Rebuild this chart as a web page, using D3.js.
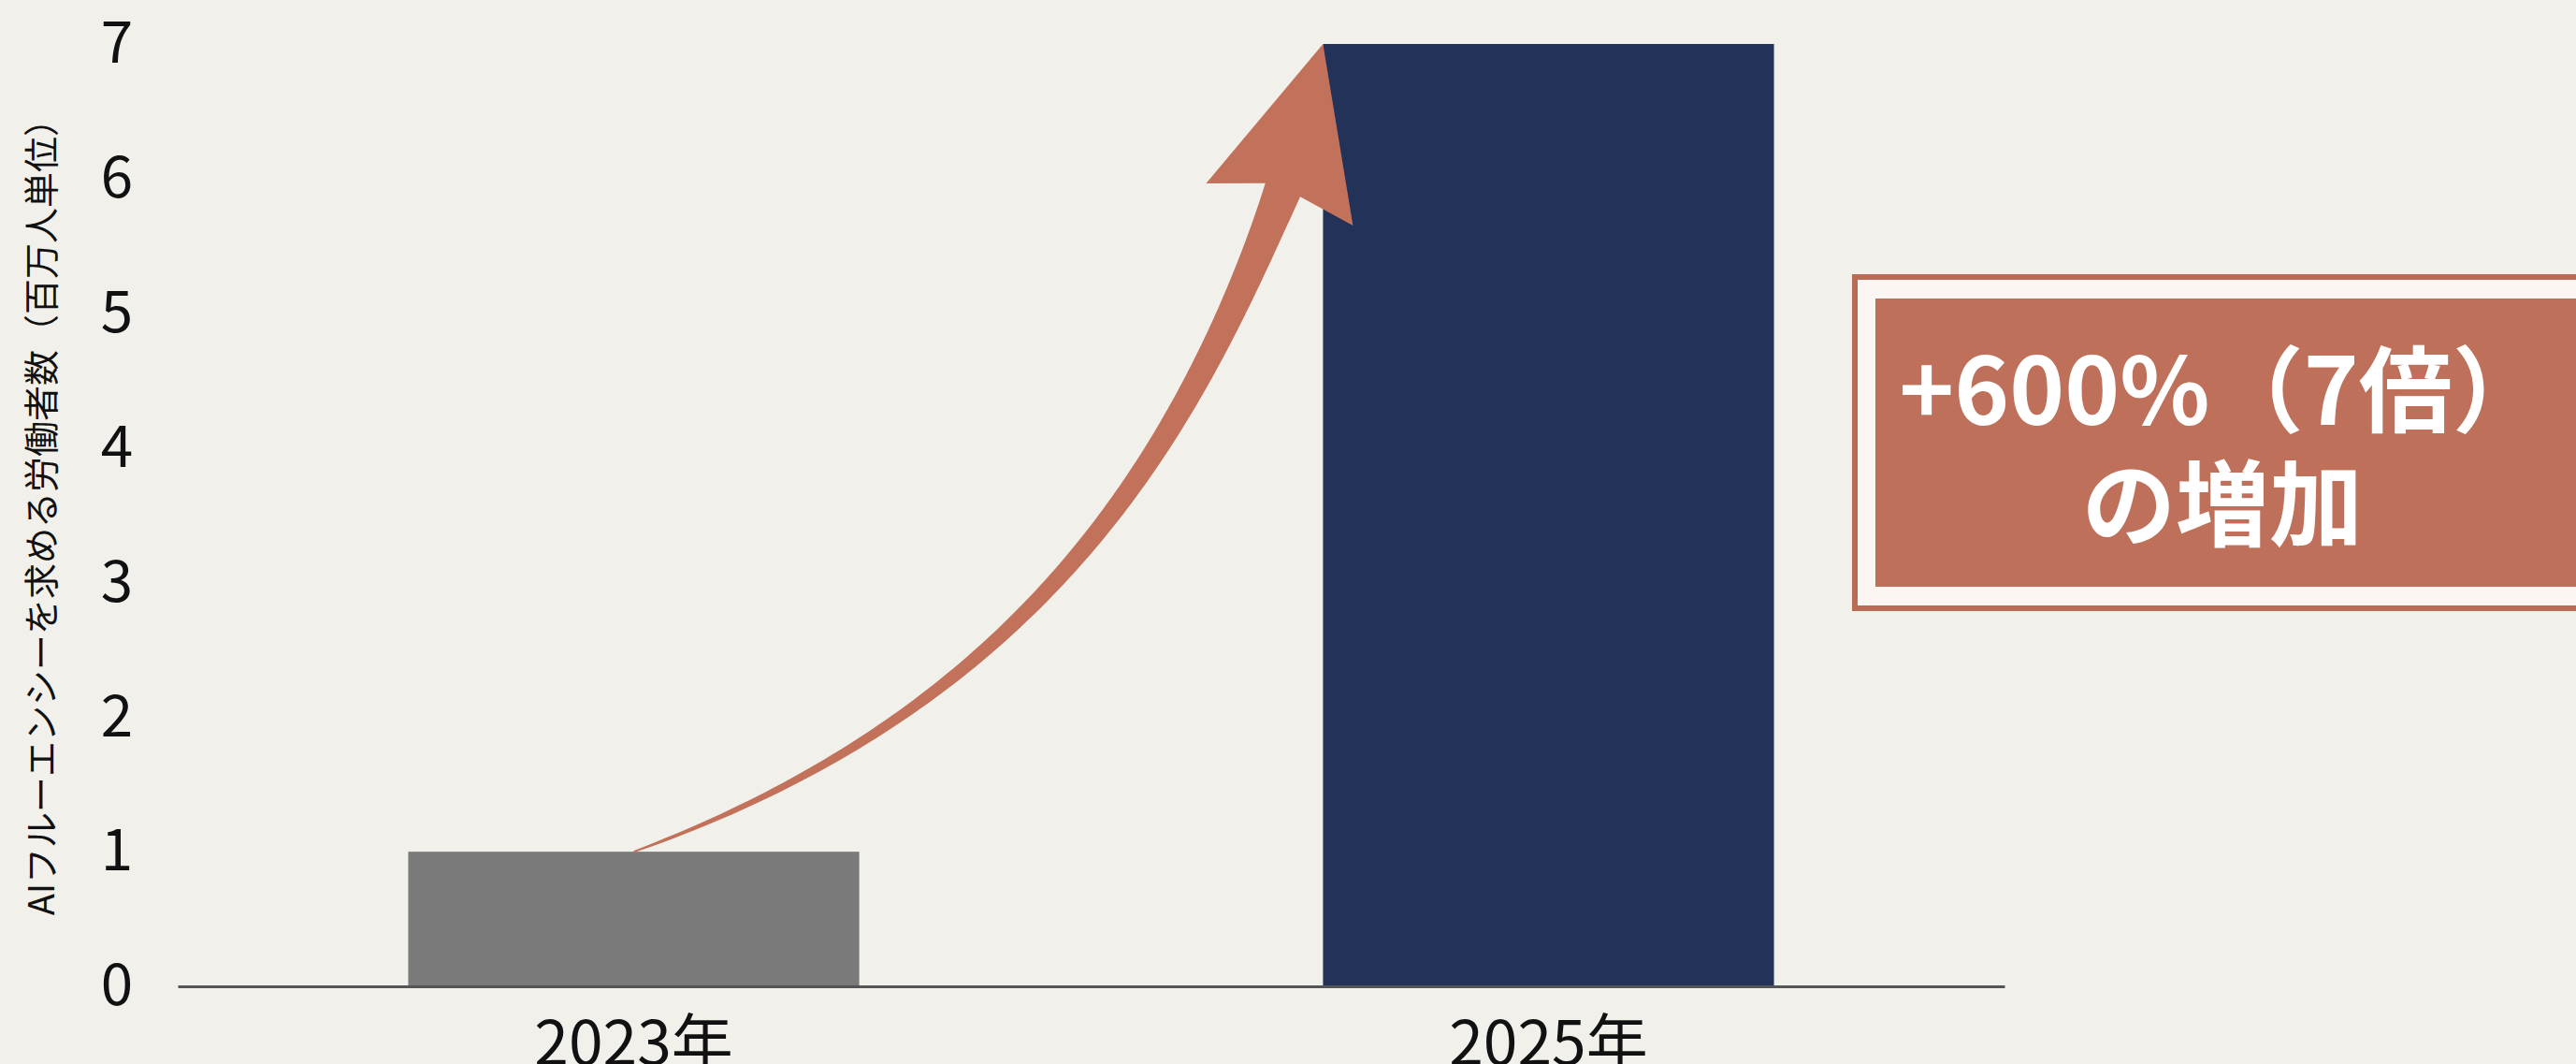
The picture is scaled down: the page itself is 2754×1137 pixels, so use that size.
<!DOCTYPE html>
<html><head><meta charset="utf-8">
<script src="https://cdn.jsdelivr.net/npm/d3@7"></script>
<style>
html,body{margin:0;padding:0;background:#F2F0EB;}
svg{display:block;}
</style></head>
<body>
<script>
const categories = ["2023年", "2025年"];
const values = [1, 7];
const yTicks = [0, 1, 2, 3, 4, 5, 6, 7];
const barColors = ["#7a7a7a", "#233258"];
const yTitle = "AIフルーエンシーを求める労働者数（百万人単位）";
const calloutLines = ["+600%（7倍）", "の増加"];

const W = 2754, H = 1137;
const FONT = "'Noto Sans CJK JP','Noto Sans',sans-serif";
const svg = d3.select("body").append("svg").attr("width", W).attr("height", H);
svg.append("rect").attr("width", W).attr("height", H).attr("fill", "#F2F0EB");

const x = d3.scaleBand().domain(categories).range([190, 2143]).paddingInner(0.507).paddingOuter(0.252);
const y = d3.scaleLinear().domain([0, 7]).range([1054, 47]);

// bars
svg.selectAll("rect.bar").data(categories).join("rect").attr("class", "bar")
  .attr("x", d => x(d)).attr("width", x.bandwidth())
  .attr("y", (d, i) => y(values[i])).attr("height", (d, i) => y(0) - y(values[i]))
  .attr("fill", (d, i) => barColors[i]);

// x axis
const xAxis = svg.append("g").attr("transform", `translate(0,${y(0)})`)
  .call(d3.axisBottom(x).tickSize(0).tickPadding(0));
xAxis.select(".domain").attr("stroke", "#555").attr("stroke-width", 3);
xAxis.selectAll("text").attr("font-family", FONT).attr("font-size", 66).attr("fill", "#111")
  .attr("dy", null).attr("y", 84);

// y axis labels (no line)
const yAxis = svg.append("g").attr("transform", `translate(145,0)`)
  .call(d3.axisLeft(y).tickValues(yTicks).tickSize(0).tickPadding(0).tickFormat(d3.format("d")));
yAxis.select(".domain").remove();
yAxis.selectAll("text").attr("font-family", FONT).attr("font-size", 62).attr("fill", "#111")
  .attr("text-anchor", "middle").attr("x", -20);

// y title
svg.append("text").attr("transform", `translate(58,543) rotate(-90)`)
  .attr("text-anchor", "middle").attr("font-family", FONT).attr("font-size", 38).attr("fill", "#111")
  .text(yTitle);

// curved arrow from top of 2023 bar to top-left of 2025 bar
const p0 = [x(categories[0]) + x.bandwidth() / 2, y(values[0])];
const tip = [x(categories[1]), y(values[1])];
const p3 = [tip[0] - 43, tip[1] + 156];          // shaft end
const p1 = [p0[0] + 440, p0[1] - 160];
const p2 = [p3[0] - 100, p3[1] + 260];
const N = 120, sideA = [], sideB = [];
for (let k = 0; k <= N; k++) {
  const t = k / N, u = 1 - t;
  const b0 = u * u * u, b1 = 3 * u * u * t, b2 = 3 * u * t * t, b3 = t * t * t;
  const px = b0 * p0[0] + b1 * p1[0] + b2 * p2[0] + b3 * p3[0];
  const py = b0 * p0[1] + b1 * p1[1] + b2 * p2[1] + b3 * p3[1];
  let dx = 3 * u * u * (p1[0] - p0[0]) + 6 * u * t * (p2[0] - p1[0]) + 3 * t * t * (p3[0] - p2[0]);
  let dy = 3 * u * u * (p1[1] - p0[1]) + 6 * u * t * (p2[1] - p1[1]) + 3 * t * t * (p3[1] - p2[1]);
  const L = Math.hypot(dx, dy); dx /= L; dy /= L;
  const hw = (2 + 30 * Math.pow(t, 0.85) + 8 * Math.pow(t, 10)) / 2;
  const nx = -dy, ny = dx;
  sideA.push([px + nx * hw, py + ny * hw]);
  sideB.push([px - nx * hw, py - ny * hw]);
}
const visLeft = sideA[N][0] < sideB[N][0] ? sideA : sideB;
const visRight = sideA[N][0] < sideB[N][0] ? sideB : sideA;
const head = [
  [tip[0] + 32, tip[1] + 194],  // right barb
  [tip[0], tip[1]],             // tip
  [tip[0] - 125, tip[1] + 149]  // left barb
];
const poly = [...visRight, ...head, ...visLeft.slice().reverse()];
svg.append("path").attr("d", d3.line()(poly) + "Z").attr("fill", "#C2725B");

// callout box
const bx = 1983, by = 296, bh = 354;
svg.append("rect").attr("x", bx).attr("y", by).attr("width", 900).attr("height", bh)
  .attr("fill", "#FBF6F1").attr("stroke", "#B96B56").attr("stroke-width", 6);
svg.append("rect").attr("x", bx + 22).attr("y", by + 23).attr("width", 900).attr("height", bh - 46)
  .attr("fill", "#BE705A");
svg.selectAll("text.callout").data(calloutLines).join("text").attr("class", "callout")
  .attr("x", 2376).attr("y", (d, i) => 410 + i * 122).attr("dominant-baseline", "central")
  .attr("text-anchor", "middle").attr("font-family", FONT).attr("font-weight", 700)
  .attr("font-size", 100).attr("fill", "#FFFFFF").text(d => d);
</script>
</body></html>
